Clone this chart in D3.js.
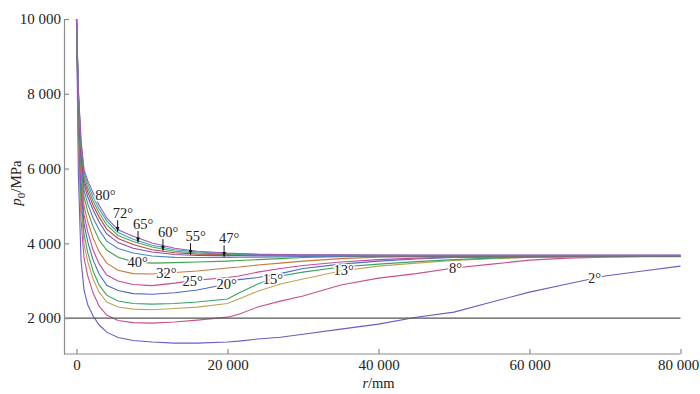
<!DOCTYPE html>
<html>
<head>
<meta charset="utf-8">
<script src="https://cdn.jsdelivr.net/npm/d3@7"></script>
<style>
  body { margin: 0; background: #fff; }
  svg { display: block; font-family: "Liberation Serif", "Times New Roman", serif; }
  .axis path, .axis line { stroke: #8c8c8c; stroke-width: 1.2; }
  .axis text { font-size: 15px; fill: #222; font-family: "Liberation Serif", serif; }
  .curve { fill: none; stroke-width: 1.1; }
  .lbl { font-size: 14.5px; fill: #222; stroke: #fff; stroke-width: 3; paint-order: stroke; stroke-linejoin: round; }
</style>
</head>
<body>
<script>
// Figure
const W = 700, H = 394;
const LEFT = 64, BOTTOM = 354;

// Data: radius r (mm) and p0 (MPa) per angle
const R = [0, 250, 600, 1000, 1500, 2200, 3000, 4000, 5500, 7500, 10000, 13000, 16000, 20000,
  21500, 24000, 27000, 30000, 35000, 40000, 45000, 50000, 55000, 60000, 65000, 70000, 75000, 80000];

const P80 = [10000, 8100, 6760, 5960, 5670, 5350, 5020, 4680, 4360, 4190, 4010, 3870, 3790, 3740, 3730, 3710, 3700, 3695, 3690, 3688, 3686, 3685, 3684, 3684, 3684, 3684, 3684, 3684];
const P72 = [10000, 8050, 6680, 5910, 5590, 5240, 4920, 4600, 4290, 4110, 3950, 3830, 3770, 3730, 3715, 3700, 3692, 3688, 3684, 3682, 3681, 3680, 3680, 3680, 3680, 3680, 3680, 3680];
const P65 = [10000, 7990, 6580, 5800, 5480, 5130, 4810, 4490, 4210, 4050, 3900, 3790, 3740, 3710, 3700, 3690, 3684, 3680, 3678, 3677, 3676, 3676, 3676, 3676, 3676, 3676, 3676, 3676];
const P60 = [10000, 7940, 6500, 5690, 5370, 5020, 4700, 4380, 4130, 3970, 3830, 3750, 3710, 3700, 3690, 3684, 3678, 3675, 3673, 3672, 3672, 3672, 3672, 3672, 3672, 3672, 3672, 3672];
const P55 = [10000, 7890, 6390, 5590, 5240, 4890, 4570, 4250, 4020, 3870, 3770, 3700, 3675, 3670, 3670, 3668, 3668, 3668, 3668, 3668, 3668, 3668, 3668, 3668, 3668, 3668, 3668, 3668];
const P47 = [10000, 7830, 6280, 5430, 5050, 4680, 4360, 4060, 3860, 3740, 3660, 3625, 3620, 3625, 3628, 3632, 3638, 3646, 3656, 3660, 3662, 3662, 3662, 3662, 3662, 3662, 3662, 3662];
const P40 = [10000, 7750, 6120, 5240, 4840, 4440, 4090, 3820, 3630, 3510, 3470, 3485, 3500, 3525, 3540, 3565, 3590, 3620, 3645, 3655, 3658, 3658, 3658, 3658, 3658, 3658, 3658, 3658];
const P32 = [10000, 7650, 5910, 5000, 4570, 4140, 3770, 3470, 3280, 3190, 3180, 3220, 3260, 3340, 3365, 3420, 3470, 3525, 3590, 3630, 3645, 3652, 3655, 3655, 3655, 3655, 3655, 3655];
const P25 = [10000, 7540, 5690, 4760, 4300, 3820, 3450, 3150, 2990, 2900, 2870, 2935, 3015, 3085, 3125, 3230, 3325, 3405, 3500, 3565, 3605, 3630, 3645, 3652, 3652, 3652, 3652, 3652];
const P20 = [10000, 7430, 5480, 4520, 4030, 3550, 3180, 2880, 2740, 2655, 2640, 2680, 2750, 2910, 3030, 3085, 3190, 3325, 3445, 3525, 3580, 3620, 3632, 3645, 3650, 3650, 3650, 3650];
const P15 = [10000, 7300, 5260, 4250, 3740, 3260, 2880, 2615, 2455, 2390, 2375, 2390, 2430, 2510, 2670, 2910, 3125, 3230, 3365, 3445, 3510, 3565, 3605, 3630, 3643, 3648, 3648, 3648];
const P13 = [10000, 7160, 5020, 3980, 3500, 3040, 2695, 2430, 2295, 2240, 2225, 2255, 2295, 2390, 2510, 2720, 2910, 3045, 3260, 3390, 3470, 3540, 3590, 3620, 3632, 3642, 3646, 3646];
const P8  = [10000, 6900, 4620, 3605, 3125, 2670, 2320, 2080, 1935, 1880, 1865, 1895, 1945, 2025, 2105, 2295, 2455, 2590, 2885, 3070, 3190, 3340, 3445, 3550, 3605, 3632, 3640, 3644];
const P2  = [10000, 5830, 3550, 2750, 2350, 2055, 1815, 1625, 1480, 1400, 1360, 1330, 1330, 1360, 1385, 1440, 1490, 1570, 1705, 1840, 2025, 2160, 2430, 2695, 2910, 3125, 3260, 3390];

const ANGLES = [80, 72, 65, 60, 55, 47, 40, 32, 25, 20, 15, 13, 8, 2];
const VALUES = [P80, P72, P65, P60, P55, P47, P40, P32, P25, P20, P15, P13, P8, P2];
const COLORS = ["#a455b5", "#3aa8b8", "#4aa85a", "#b5483e", "#8a4aa8", "#4a84c4", "#3fa24e",
  "#c47a3a", "#c64a9e", "#5068c0", "#36a468", "#bca454", "#c8508a", "#6a5cc4"];

// Labels sitting on the curves
const LINE_LABEL_ANGLES = [40, 32, 25, 20, 15, 13, 8, 2];
const LINE_LABEL_R      = [8100, 11900, 15400, 19900, 26000, 35400, 50200, 68600];
// Labels with arrows
const ARROW_ANGLES = [72, 65, 60, 55, 47];
const ARROW_R      = [5450, 8150, 11450, 15100, 19550];
// Free label for 80°
const TOP_LABEL = [80, 3840, 5290];

const X_TICKS = [0, 20000, 40000, 60000, 80000];
const Y_TICKS = [2000, 4000, 6000, 8000, 10000];
const REF_P = 2000;

const series = ANGLES.map((a, i) => ({ angle: a, color: COLORS[i], values: VALUES[i] }));
const byAngle = a => series.find(s => s.angle === a);

// Scales
const x = d3.scaleLinear().domain([0, 80000]).range([76.5, 680.5]);
const y = d3.scaleLinear().domain([1040, 10000]).range([BOTTOM, 19]);

const fmt = d3.formatLocale({ decimal: ".", thousands: " ", grouping: [3], currency: ["", ""] }).format(",");

const valueAt = (s, r) => {
  const i = Math.min(Math.max(d3.bisectRight(R, r), 1), R.length - 1);
  const t = (r - R[i - 1]) / (R[i] - R[i - 1]);
  return s.values[i - 1] + t * (s.values[i] - s.values[i - 1]);
};

const svg = d3.select("body").append("svg")
  .attr("width", W)
  .attr("height", H);

svg.append("defs").append("marker")
  .attr("id", "arr")
  .attr("viewBox", "0 0 8 6")
  .attr("refX", 8).attr("refY", 3)
  .attr("markerWidth", 5).attr("markerHeight", 4)
  .attr("markerUnits", "userSpaceOnUse")
  .attr("orient", "auto")
  .append("path").attr("d", "M0,0L8,3L0,6Z").attr("fill", "#111");

// Curves
const line = d3.line()
  .x((d, i) => x(R[i]))
  .y(d => y(d));

svg.append("g").selectAll("path")
  .data(series.slice().reverse())
  .join("path")
    .attr("class", "curve")
    .attr("stroke", d => d.color)
    .attr("d", d => line(d.values));

// Reference line at 2000
svg.append("line")
  .attr("x1", LEFT).attr("x2", x(80000))
  .attr("y1", y(REF_P)).attr("y2", y(REF_P))
  .attr("stroke", "#555").attr("stroke-width", 1.3);

// Axes
svg.append("g")
  .attr("class", "axis")
  .attr("transform", `translate(${LEFT},0)`)
  .call(d3.axisLeft(y).tickValues(Y_TICKS).tickFormat(fmt).tickSizeInner(-5).tickSizeOuter(0).tickPadding(3));

const xAxis = svg.append("g")
  .attr("class", "axis")
  .attr("transform", `translate(0,${BOTTOM})`)
  .call(d3.axisBottom(x).tickValues(X_TICKS).tickFormat(fmt).tickSizeInner(-5).tickSizeOuter(0).tickPadding(5));
xAxis.select(".domain").remove();
xAxis.append("line")
  .attr("x1", LEFT).attr("x2", x(80000))
  .attr("stroke", "#8c8c8c").attr("stroke-width", 1.2);
// last label sits against the right edge
xAxis.selectAll(".tick text").filter(d => d === 80000).attr("dx", -2.5);

// Axis titles
const yTitle = svg.append("text")
  .attr("transform", "translate(20.5,183) rotate(-90)")
  .attr("text-anchor", "middle")
  .style("font-size", "15px")
  .attr("fill", "#222");
yTitle.append("tspan").attr("font-style", "italic").text("p");
yTitle.append("tspan").attr("font-size", "11px").attr("dy", 4).text("0");
yTitle.append("tspan").attr("dy", -4).text("/MPa");

const xTitle = svg.append("text")
  .attr("x", x(40000)).attr("y", 388)
  .attr("text-anchor", "middle")
  .style("font-size", "14.5px")
  .attr("fill", "#222");
xTitle.append("tspan").attr("font-style", "italic").text("r");
xTitle.append("tspan").text("/mm");

// On-curve labels
const labels = svg.append("g");
LINE_LABEL_ANGLES.forEach((a, i) => {
  const r = LINE_LABEL_R[i];
  labels.append("text")
    .attr("class", "lbl")
    .attr("x", x(r))
    .attr("y", y(valueAt(byAngle(a), r)))
    .attr("dy", "0.33em")
    .attr("text-anchor", "middle")
    .text(a + "°");
});

// Arrow labels
ARROW_ANGLES.forEach((a, i) => {
  const r = ARROW_R[i];
  const ax = x(r);
  const tip = y(valueAt(byAngle(a), r));
  labels.append("line")
    .attr("x1", ax).attr("x2", ax)
    .attr("y1", tip - 12).attr("y2", tip - 0.5)
    .attr("stroke", "#111").attr("stroke-width", 1)
    .attr("marker-end", "url(#arr)");
  labels.append("text")
    .attr("class", "lbl")
    .attr("x", ax - 5)
    .attr("y", tip - 14)
    .text(a + "°");
});

labels.append("text")
  .attr("class", "lbl")
  .attr("x", x(TOP_LABEL[1]))
  .attr("y", y(TOP_LABEL[2]))
  .attr("dy", "0.33em")
  .attr("text-anchor", "middle")
  .text(TOP_LABEL[0] + "°");
</script>
</body>
</html>
